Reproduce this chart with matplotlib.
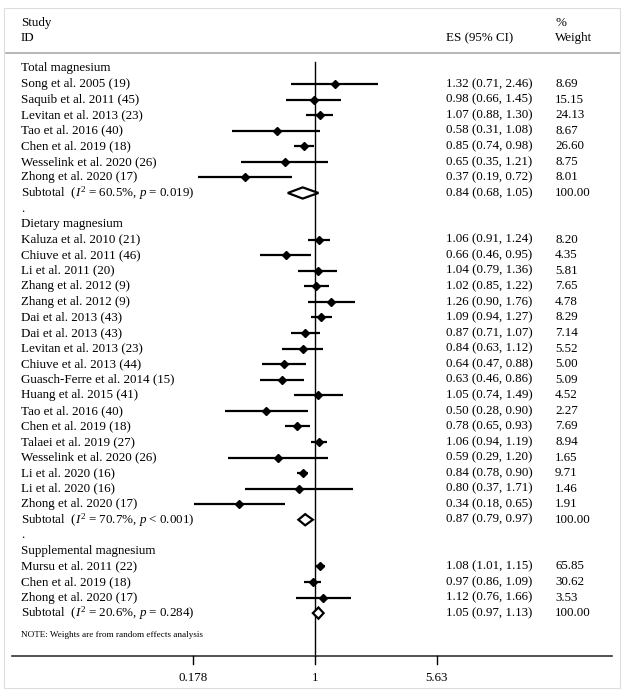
import numpy as np
import matplotlib.pyplot as plt
import matplotlib.transforms as mtransforms
from matplotlib.patches import Polygon, Rectangle

plt.rcParams['font.family'] = ['Liberation Serif', 'DejaVu Serif']
plt.rcParams['mathtext.fontset'] = 'custom'
plt.rcParams['mathtext.rm'] = 'Liberation Serif'
plt.rcParams['mathtext.it'] = 'Liberation Serif:italic'

total_names = ["Song et al. 2005 (19)", "Saquib et al. 2011 (45)", "Levitan et al. 2013 (23)",
               "Tao et al. 2016 (40)", "Chen et al. 2019 (18)", "Wesselink et al. 2020 (26)",
               "Zhong et al. 2020 (17)"]
total_es = [1.32, 0.98, 1.07, 0.58, 0.85, 0.65, 0.37]
total_lo = [0.71, 0.66, 0.88, 0.31, 0.74, 0.35, 0.19]
total_hi = [2.46, 1.45, 1.30, 1.08, 0.98, 1.21, 0.72]
total_w = ["8.69", "15.15", "24.13", "8.67", "26.60", "8.75", "8.01"]
total_sub = (0.84, 0.68, 1.05)
total_sub_lab = r"Subtotal  ($I^2$ = 60.5%, $p$ = 0.019)"

diet_names = ["Kaluza et al. 2010 (21)", "Chiuve et al. 2011 (46)", "Li et al. 2011 (20)",
              "Zhang et al. 2012 (9)", "Zhang et al. 2012 (9)", "Dai et al. 2013 (43)",
              "Dai et al. 2013 (43)", "Levitan et al. 2013 (23)", "Chiuve et al. 2013 (44)",
              "Guasch-Ferre et al. 2014 (15)", "Huang et al. 2015 (41)", "Tao et al. 2016 (40)",
              "Chen et al. 2019 (18)", "Talaei et al. 2019 (27)", "Wesselink et al. 2020 (26)",
              "Li et al. 2020 (16)", "Li et al. 2020 (16)", "Zhong et al. 2020 (17)"]
diet_es = [1.06, 0.66, 1.04, 1.02, 1.26, 1.09, 0.87, 0.84, 0.64, 0.63, 1.05, 0.50, 0.78, 1.06, 0.59, 0.84, 0.80, 0.34]
diet_lo = [0.91, 0.46, 0.79, 0.85, 0.90, 0.94, 0.71, 0.63, 0.47, 0.46, 0.74, 0.28, 0.65, 0.94, 0.29, 0.78, 0.37, 0.18]
diet_hi = [1.24, 0.95, 1.36, 1.22, 1.76, 1.27, 1.07, 1.12, 0.88, 0.86, 1.49, 0.90, 0.93, 1.19, 1.20, 0.90, 1.71, 0.65]
diet_w = ["8.20", "4.35", "5.81", "7.65", "4.78", "8.29", "7.14", "5.52", "5.00", "5.09", "4.52", "2.27", "7.69", "8.94", "1.65", "9.71", "1.46", "1.91"]
diet_sub = (0.87, 0.79, 0.97)
diet_sub_lab = r"Subtotal  ($I^2$ = 70.7%, $p$ < 0.001)"

supp_names = ["Mursu et al. 2011 (22)", "Chen et al. 2019 (18)", "Zhong et al. 2020 (17)"]
supp_es = [1.08, 0.97, 1.12]
supp_lo = [1.01, 0.86, 0.76]
supp_hi = [1.15, 1.09, 1.66]
supp_w = ["65.85", "30.62", "3.53"]
supp_sub = (1.05, 0.97, 1.13)
supp_sub_lab = r"Subtotal  ($I^2$ = 20.6%, $p$ = 0.284)"

ticks = [0.178, 1, 5.63]
tick_labels = ["0.178", "1", "5.63"]

groups = [
    ("Total magnesium", total_names, total_es, total_lo, total_hi, total_w, total_sub, total_sub_lab),
    ("Dietary magnesium", diet_names, diet_es, diet_lo, diet_hi, diet_w, diet_sub, diet_sub_lab),
    ("Supplemental magnesium", supp_names, supp_es, supp_lo, supp_hi, supp_w, supp_sub, supp_sub_lab),
]

W, H = 624, 692
fig = plt.figure(figsize=(W / 100, H / 100), dpi=100)
ax = fig.add_axes([0, 0, 1, 1])
ax.set_xscale('log')
# 1 at x=315 px, 70.5 px per ln unit
px_ln = 70.5
ax.set_xlim(np.exp(-315 / px_ln), np.exp((W - 315) / px_ln))
# row 0 at 68.5 px, 15.56 px per row
rh = 15.56
y0 = 68.5
ax.set_ylim((H - y0) / rh, -y0 / rh)
ax.axis('off')

def py(p):
    return (p - y0) / rh

tr = mtransforms.blended_transform_factory(fig.transFigure, ax.transData)
fs = 9.4
xl, xes, xw = 21 / W, 446 / W, 555 / W

# header
ax.text(xl, py(23), "Study", transform=tr, fontsize=fs, va='center')
ax.text(xl, py(38), "ID", transform=tr, fontsize=fs, va='center')
ax.text(xes, py(38), "ES (95% CI)", transform=tr, fontsize=fs, va='center')
ax.text(xw, py(23), "%", transform=tr, fontsize=fs, va='center')
ax.text(xw, py(38), "Weight", transform=tr, fontsize=fs, va='center')
ax.plot([6 / W, 620 / W], [py(53), py(53)], transform=tr, color='#aaaaaa', lw=1.2)

row = 0
for gi, (title, names, es, lo, hi, w, sub, sublab) in enumerate(groups):
    ax.text(xl, row, title, transform=tr, fontsize=fs, va='center')
    row += 1
    for n, e, l, h, ww in zip(names, es, lo, hi, w):
        ax.text(xl, row, n, transform=tr, fontsize=fs, va='center')
        ax.text(xes, row, f"{e:.2f} ({l:.2f}, {h:.2f})", transform=tr, fontsize=fs, va='center')
        ax.text(xw, row, ww, transform=tr, fontsize=fs, va='center')
        ax.plot([l, h], [row, row], color='black', lw=1.6, solid_capstyle='butt')
        ax.plot(e, row, marker='D', color='black', ms=4)
        row += 1
    se, sl, sh = sub
    ax.text(xl, row, sublab, transform=tr, fontsize=fs, va='center')
    ax.text(xes, row, f"{se:.2f} ({sl:.2f}, {sh:.2f})", transform=tr, fontsize=fs, va='center')
    ax.text(xw, row, "100.00", transform=tr, fontsize=fs, va='center')
    d = 0.36
    ax.add_patch(Polygon([[sl, row], [se, row - d], [sh, row], [se, row + d]],
                         closed=True, fill=True, facecolor='white', edgecolor='black', lw=1.6, zorder=3))
    row += 1
    if gi < len(groups) - 1:
        ax.text(xl, row, ".", transform=tr, fontsize=fs, va='center')
        row += 1

ax.text(xl, py(635), "NOTE: Weights are from random effects analysis", transform=tr,
        fontsize=6.6, va='center')

# null line and axis
ax.plot([1, 1], [py(62), py(656)], color='black', lw=1.0, zorder=1)
ax.plot([12 / W, 612 / W], [py(656), py(656)], transform=tr, color='#333333', lw=1.2)
for t, tl in zip(ticks, tick_labels):
    ax.plot([t, t], [py(656), py(664)], color='black', lw=1.0)
    ax.text(t, py(678), tl, fontsize=fs, ha='center', va='center')

# faint frame
fig.patches.append(Rectangle((4 / W, 4 / H), 616 / W, 680 / H, transform=fig.transFigure,
                             fill=False, edgecolor='#dddddd', lw=0.8))

fig.savefig("out.png", dpi=100)
